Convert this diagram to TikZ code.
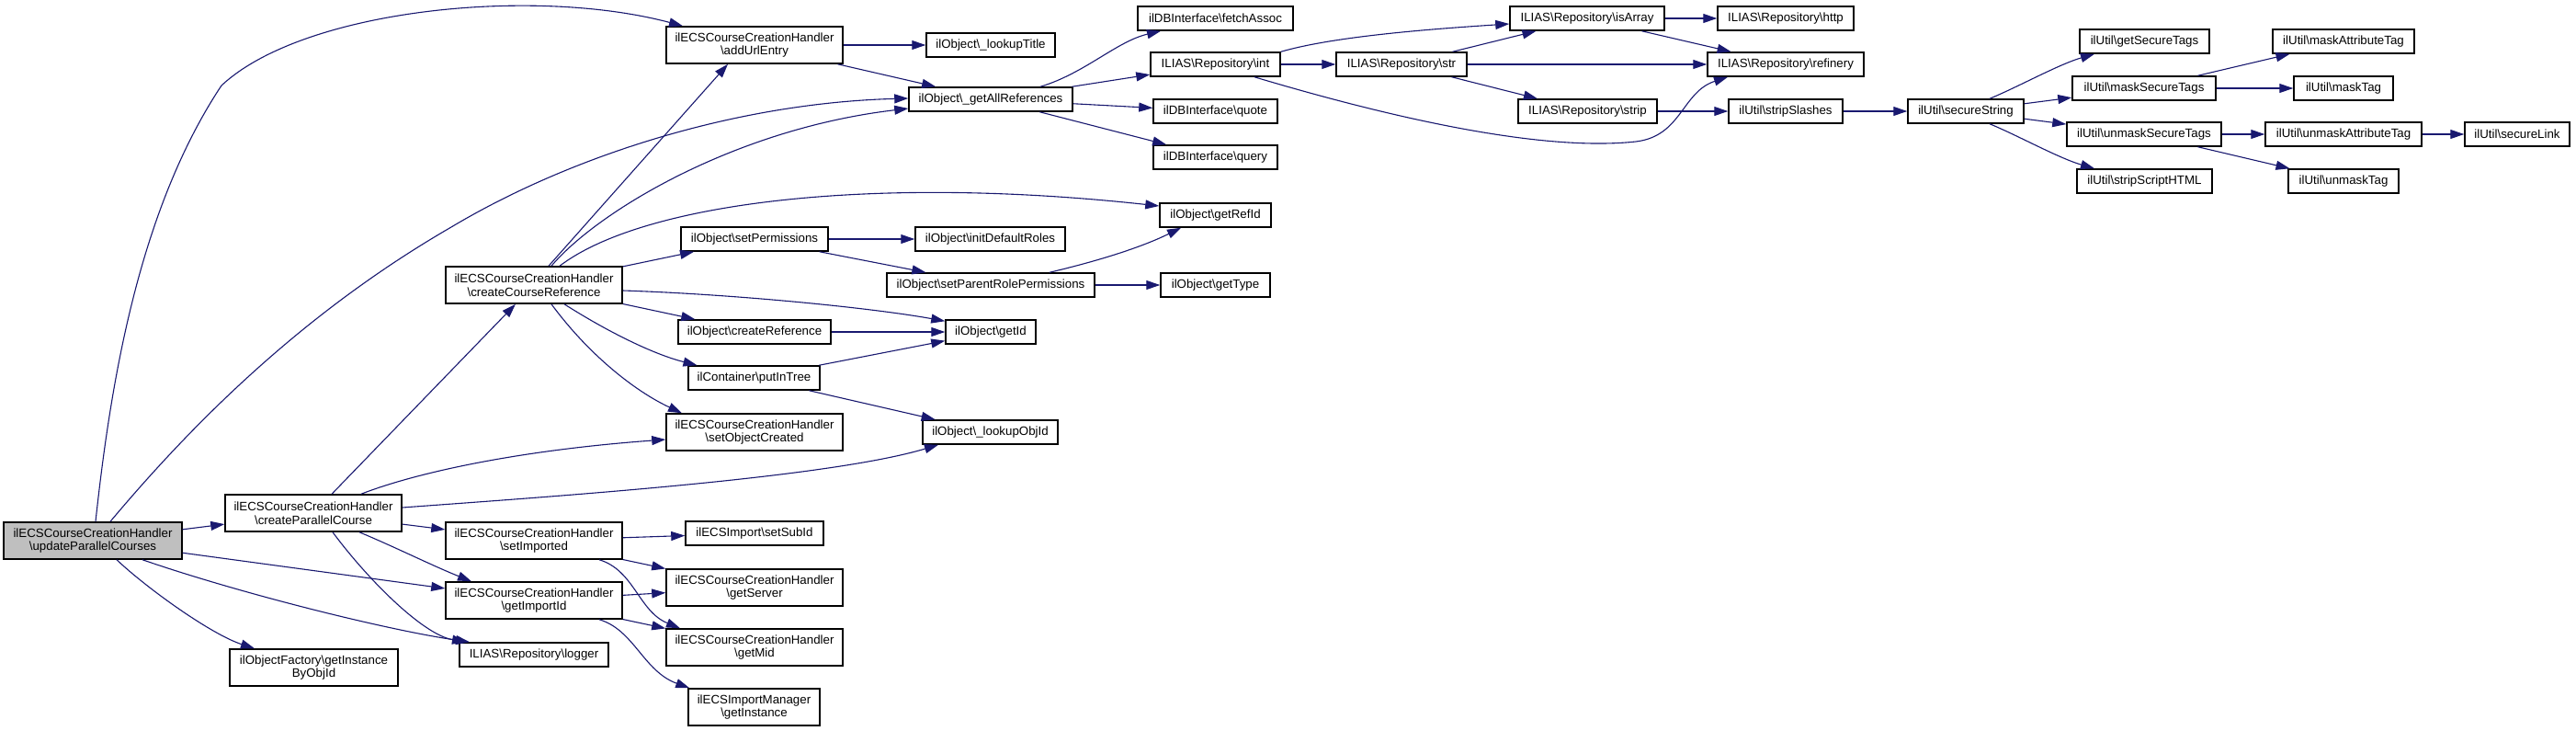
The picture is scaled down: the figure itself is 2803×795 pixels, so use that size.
\documentclass[tikz,border=0pt]{standalone}
\usepackage{fontspec}
\setmainfont{Liberation Sans}
\usetikzlibrary{arrows.meta}
\definecolor{edgec}{HTML}{191970}
\definecolor{rootfill}{HTML}{BFBFBF}
\newcommand\BSL{\textbackslash{}}
\newcommand\boxfont{\fontsize{13.3}{14.5}\selectfont}
\newcommand\mkbox[6]{\node[box,minimum width=#4pt,minimum height=#5pt] (#1) at (#2,#3) {#6};}
\begin{document}
\begin{tikzpicture}[x=1pt,y=-1pt,
  box/.style={draw=black, line width=1.5pt, fill=white, inner sep=0pt, align=center, font=\boxfont},
  edge/.style={draw=edgec, line width=1.1pt, -{Triangle[length=15pt,width=10pt,fill=edgec]}}]
\useasboundingbox[fill=white] (0,0) rectangle (2803,795);
% nodes
\node[box,fill=rootfill,minimum width=194pt,minimum height=40pt] (U) at (101,588) {ilECSCourseCreationHandler\\\BSL updateParallelCourses};
\mkbox{CP}{341}{558}{192}{40}{ilECSCourseCreationHandler\\\BSL createParallelCourse}
\mkbox{CR}{581}{310}{192}{40}{ilECSCourseCreationHandler\\\BSL createCourseReference}
\mkbox{SI}{581}{588}{192}{40}{ilECSCourseCreationHandler\\\BSL setImported}
\mkbox{GI}{581}{653}{192}{40}{ilECSCourseCreationHandler\\\BSL getImportId}
\mkbox{LOG}{581}{712}{162}{26}{ILIAS\BSL Repository\BSL logger}
\mkbox{GIO}{341.5}{726}{183}{40}{ilObjectFactory\BSL getInstance\\ByObjId}
\mkbox{AU}{821}{49}{192}{40}{ilECSCourseCreationHandler\\\BSL addUrlEntry}
\mkbox{LT}{1078}{49}{140}{26}{ilObject\BSL\_lookupTitle}
\mkbox{GAR}{1078}{108}{178}{26}{ilObject\BSL\_getAllReferences}
\mkbox{FA}{1322.5}{20}{169}{26}{ilDBInterface\BSL fetchAssoc}
\mkbox{INT}{1322.5}{70}{141}{26}{ILIAS\BSL Repository\BSL int}
\mkbox{QU}{1322.5}{121}{135}{26}{ilDBInterface\BSL quote}
\mkbox{QY}{1322.5}{171}{135}{26}{ilDBInterface\BSL query}
\mkbox{GRI}{1322.5}{234}{121}{26}{ilObject\BSL getRefId}
\mkbox{SP}{821}{260}{160}{26}{ilObject\BSL setPermissions}
\mkbox{IDR}{1077.5}{260}{163}{26}{ilObject\BSL initDefaultRoles}
\mkbox{SPR}{1078}{310}{226}{26}{ilObject\BSL setParentRolePermissions}
\mkbox{GT}{1322.5}{310}{119}{26}{ilObject\BSL getType}
\mkbox{CRF}{821}{361}{166}{26}{ilObject\BSL createReference}
\mkbox{GID}{1078}{361}{98}{26}{ilObject\BSL getId}
\mkbox{PIT}{820.5}{411}{143}{26}{ilContainer\BSL putInTree}
\mkbox{SOC}{821}{470}{192}{40}{ilECSCourseCreationHandler\\\BSL setObjectCreated}
\mkbox{LOI}{1077.5}{470}{147}{26}{ilObject\BSL\_lookupObjId}
\mkbox{SSI}{821}{580}{150}{26}{ilECSImport\BSL setSubId}
\mkbox{GS}{821}{639}{192}{40}{ilECSCourseCreationHandler\\\BSL getServer}
\mkbox{GM}{821}{704}{192}{40}{ilECSCourseCreationHandler\\\BSL getMid}
\mkbox{IMG}{820.5}{769}{143}{40}{ilECSImportManager\\\BSL getInstance}
\mkbox{ISA}{1727}{20}{168}{26}{ILIAS\BSL Repository\BSL isArray}
\mkbox{HTTP}{1943}{20}{148}{26}{ILIAS\BSL Repository\BSL http}
\mkbox{STR}{1525}{70}{142}{26}{ILIAS\BSL Repository\BSL str}
\mkbox{REF}{1943}{70}{170}{26}{ILIAS\BSL Repository\BSL refinery}
\mkbox{STP}{1727.5}{121}{151}{26}{ILIAS\BSL Repository\BSL strip}
\mkbox{SSL}{1943}{121}{124}{26}{ilUtil\BSL stripSlashes}
\mkbox{SS}{2139}{121}{126}{26}{ilUtil\BSL secureString}
\mkbox{GST}{2333.5}{45}{141}{26}{ilUtil\BSL getSecureTags}
\mkbox{MST}{2333}{96}{156}{26}{ilUtil\BSL maskSecureTags}
\mkbox{UST}{2333}{146}{168}{26}{ilUtil\BSL unmaskSecureTags}
\mkbox{SSH}{2333.5}{197}{147}{26}{ilUtil\BSL stripScriptHTML}
\mkbox{MAT}{2550}{45}{154}{26}{ilUtil\BSL maskAttributeTag}
\mkbox{MT}{2550}{96}{108}{26}{ilUtil\BSL maskTag}
\mkbox{UAT}{2550}{146}{170}{26}{ilUtil\BSL unmaskAttributeTag}
\mkbox{UT}{2550}{197}{120}{26}{ilUtil\BSL unmaskTag}
\mkbox{SL}{2739}{146}{114}{26}{ilUtil\BSL secureLink}
% edges from U
\draw[edge] ([xshift=3pt]U.north) .. controls (120,420) and (150,230) .. (241,93) .. controls (330,10) and (580,-15) .. ([xshift=-78pt]AU.north);
\draw[edge] ([xshift=19pt]U.north) .. controls (210,460) and (330,340) .. (491,247) .. controls (620,170) and (800,112) .. ([yshift=1pt]GAR.west);
\draw[edge] (U) -- (CP);
\draw[edge] (U) -- (GI);
\draw[edge] ([xshift=54pt]U.south) .. controls (260,645) and (420,685) .. ([xshift=-70pt]LOG.north);
\draw[edge] ([xshift=26pt]U.south) .. controls (160,640) and (230,690) .. ([xshift=-64.5pt]GIO.north);
% edges from CP
\draw[edge] (CP) -- (CR);
\draw[edge] ([xshift=52pt]CP.north) .. controls (450,515) and (560,490) .. ([yshift=-8pt]SOC.west);
\draw[edge] ([yshift=6pt]CP.east) .. controls (600,540) and (900,520) .. ([xshift=-56.5pt]LOI.south);
\draw[edge] (CP) -- (SI);
\draw[edge] ([xshift=50pt]CP.south) .. controls (430,595) and (470,615) .. ([xshift=-68pt]GI.north);
\draw[edge] ([xshift=21pt]CP.south) .. controls (400,630) and (460,690) .. ([xshift=-74pt]LOG.north);
% edges from CR
\draw[edge] ([xshift=16pt]CR.north) -- ([xshift=-29pt]AU.south);
\draw[edge] ([xshift=19pt]CR.north) .. controls (650,230) and (800,140) .. ([yshift=-10pt]GAR.west);
\draw[edge] ([xshift=28pt]CR.north) .. controls (700,220) and (950,190) .. ([yshift=10pt]GRI.west);
\draw[edge] (CR) -- (SP);
\draw[edge] ([yshift=-6pt]CR.east) .. controls (800,320) and (950,335) .. ([yshift=-2pt]GID.north west);
\draw[edge] (CR) -- (CRF);
\draw[edge] ([xshift=33pt]CR.south) .. controls (660,360) and (710,385) .. ([xshift=-62pt]PIT.north);
\draw[edge] ([xshift=19pt]CR.south) .. controls (640,385) and (690,425) .. ([xshift=-79pt]SOC.north);
% AU, GAR
\draw[edge] (AU) -- (LT);
\draw[edge] (AU) -- (GAR);
\draw[edge] ([xshift=54pt]GAR.north) .. controls (1180,80) and (1215,45) .. ([xshift=-59.5pt]FA.south);
\draw[edge] (GAR) -- (INT);
\draw[edge] (GAR) -- (QU);
\draw[edge] (GAR) -- (QY);
% permissions
\draw[edge] (SP) -- (IDR);
\draw[edge] (SP) -- (SPR);
\draw[edge] ([xshift=64pt]SPR.north) .. controls (1190,285) and (1240,270) .. ([xshift=-37.5pt]GRI.south);
\draw[edge] (SPR) -- (GT);
\draw[edge] (CRF) -- (GID);
\draw[edge] (PIT) -- (GID);
\draw[edge] (PIT) -- (LOI);
% SI, GI
\draw[edge] (SI) -- (SSI);
\draw[edge] (SI) -- (GS);
\draw[edge] ([xshift=71pt]SI.south) .. controls (690,620) and (695,665) .. ([xshift=-81pt]GM.north);
\draw[edge] (GI) -- (GS);
\draw[edge] (GI) -- (GM);
\draw[edge] ([xshift=71pt]GI.south) .. controls (690,685) and (700,730) .. ([xshift=2pt]IMG.north west);
% repository
\draw[edge] (INT.north east) .. controls (1450,40) and (1550,32) .. ([yshift=-6pt]ISA.west);
\draw[edge] (INT) -- (STR);
\draw[edge] ([xshift=42.5pt]INT.south) .. controls (1520,130) and (1680,165) .. (1780,154) .. controls (1830,148) and (1830,100) .. ([xshift=-63pt]REF.south);
\draw[edge] (STR) -- (ISA);
\draw[edge] (STR) -- (REF);
\draw[edge] (STR) -- (STP);
\draw[edge] (ISA) -- (HTTP);
\draw[edge] (ISA) -- (REF);
\draw[edge] (STP) -- (SSL);
\draw[edge] (SSL) -- (SS);
% util
\draw[edge] ([xshift=26pt]SS.north) .. controls (2195,95) and (2240,70) .. ([xshift=-54.5pt]GST.south);
\draw[edge] (SS) -- (MST);
\draw[edge] (SS) -- (UST);
\draw[edge] ([xshift=26pt]SS.south) .. controls (2195,147) and (2240,172) .. ([xshift=-54.5pt]SSH.north);
\draw[edge] (MST) -- (MAT);
\draw[edge] (MST) -- (MT);
\draw[edge] (UST) -- (UAT);
\draw[edge] (UST) -- (UT);
\draw[edge] (UAT) -- (SL);
\end{tikzpicture}
\end{document}
